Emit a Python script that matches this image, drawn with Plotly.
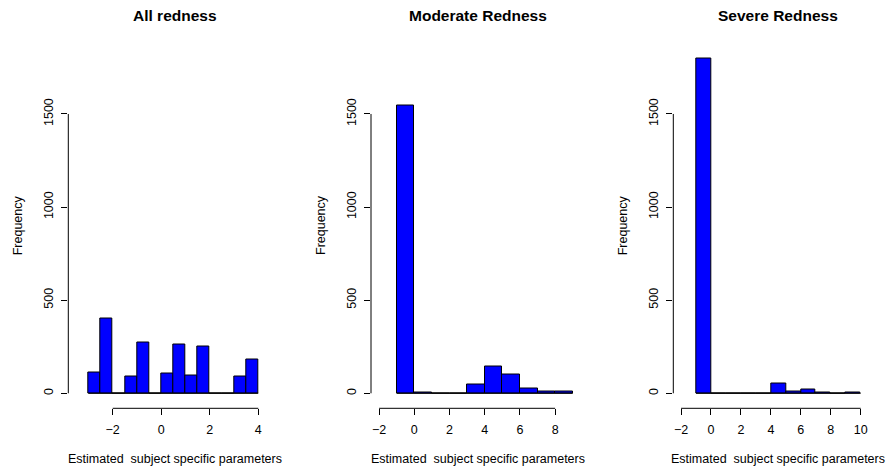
import plotly.graph_objects as go

# ---- data ----
titles = ["All redness", "Moderate Redness", "Severe Redness"]

breaks_all = [-3.0, -2.5, -2.0, -1.5, -1.0, -0.5, 0.0, 0.5, 1.0, 1.5, 2.0, 2.5, 3.0, 3.5, 4.0]
counts_all = [114, 401, 0, 89, 274, 0, 104, 263, 97, 254, 0, 0, 89, 183]

breaks_mod = [-1, 0, 1, 2, 3, 4, 5, 6, 7, 8, 9]
counts_mod = [1545, 2, 1, 1, 48, 145, 102, 28, 9, 12]

breaks_sev = [-1, 0, 1, 2, 3, 4, 5, 6, 7, 8, 9, 10]
counts_sev = [1800, 1, 1, 1, 1, 50, 12, 18, 4, 1, 3]

xticks_all = [-2, 0, 2, 4]
xticks_mod = [-2, 0, 2, 4, 6, 8]
xticks_sev = [-2, 0, 2, 4, 6, 8, 10]
yticks = [0, 500, 1000, 1500]

x_label = "Estimated\u00a0 subject specific parameters"
y_label = "Frequency"

# ---- layout geometry (pixels) ----
W, H = 890, 472
FONT = "Liberation Sans, Arial, Helvetica, sans-serif"
panels = [
    dict(breaks=breaks_all, counts=counts_all, ticks=xticks_all, px=(68.3, 282.0), xr=(-3.829, 4.977)),
    dict(breaks=breaks_mod, counts=counts_mod, ticks=xticks_mod, px=(371.0, 584.0), xr=(-2.46, 9.64)),
    dict(breaks=breaks_sev, counts=counts_sev, ticks=xticks_sev, px=(673.3, 883.0), xr=(-2.518, 11.49)),
]
ydom = [1 - 408.3 / H, 1 - 39.5 / H]
yrange = [-80.6, 1900]


def fmt(v):
    s = f"{v:g}"
    return s.replace("-", "\u2212")


fig = go.Figure()
shapes = []
annotations = []

for i, p in enumerate(panels):
    n = "" if i == 0 else str(i + 1)
    xa, ya = "x" + n, "y" + n
    b = p["breaks"]
    centers = [(b[k] + b[k + 1]) / 2 for k in range(len(b) - 1)]
    widths = [b[k + 1] - b[k] for k in range(len(b) - 1)]
    fig.add_trace(go.Bar(
        x=centers, y=p["counts"], width=widths,
        marker=dict(color="#0000ff", line=dict(color="black", width=1)),
        xaxis=xa, yaxis=ya, showlegend=False, hoverinfo="x+y",
    ))
    dom = [p["px"][0] / W, p["px"][1] / W]
    fig.layout["xaxis" + n] = dict(
        domain=dom, range=list(p["xr"]), anchor=ya,
        tickvals=p["ticks"], ticktext=[fmt(t) for t in p["ticks"]],
        ticks="outside", ticklen=6, tickwidth=1, tickcolor="black",
        showgrid=False, zeroline=False, showline=False,
        tickfont=dict(family=FONT, size=12.5, color="black"),
        ticklabelstandoff=4, fixedrange=True,
    )
    fig.layout["yaxis" + n] = dict(
        domain=ydom, range=yrange, anchor=xa,
        tickvals=yticks, ticktext=[fmt(t) for t in yticks], tickangle=-90,
        ticks="outside", ticklen=6, tickwidth=1, tickcolor="black",
        showgrid=False, zeroline=False, showline=False,
        tickfont=dict(family=FONT, size=12.5, color="black"),
        ticklabelstandoff=3, fixedrange=True,
    )
    # axis lines spanning first..last tick (R style)
    shapes.append(dict(type="line", xref=xa, yref=ya + " domain",
                       x0=min(p["ticks"]), x1=max(p["ticks"]), y0=0, y1=0,
                       line=dict(color="black", width=1)))
    shapes.append(dict(type="line", xref=xa + " domain", yref=ya,
                       x0=0, x1=0, y0=min(yticks), y1=max(yticks),
                       line=dict(color="black", width=1)))
    # outline of empty bins at zero
    shapes.append(dict(type="line", xref=xa, yref=ya,
                       x0=b[0], x1=b[-1], y0=0, y1=0,
                       line=dict(color="black", width=1), layer="above"))
    # titles
    annotations.append(dict(text="<b>" + titles[i] + "</b>", xref=xa + " domain", x=0.5,
                            yref="paper", y=1 - 15 / H, yanchor="middle", xanchor="center",
                            showarrow=False, font=dict(family=FONT, size=15.5, color="black")))
    annotations.append(dict(text=x_label, xref=xa + " domain", x=0.5,
                            yref="paper", y=1 - 459 / H, yanchor="middle", xanchor="center",
                            showarrow=False, font=dict(family=FONT, size=12.5, color="black")))
    annotations.append(dict(text=y_label, xref=xa + " domain", x=0, xshift=-50,
                            yref="paper", y=1 - 225 / H, yanchor="middle", xanchor="center",
                            textangle=-90,
                            showarrow=False, font=dict(family=FONT, size=12.5, color="black")))

fig.update_layout(
    width=W, height=H, autosize=False,
    margin=dict(l=0, r=0, t=0, b=0),
    paper_bgcolor="white", plot_bgcolor="white",
    shapes=shapes, annotations=annotations,
    bargap=0,
)

fig.write_html("out.html", config={"displayModeBar": False})
